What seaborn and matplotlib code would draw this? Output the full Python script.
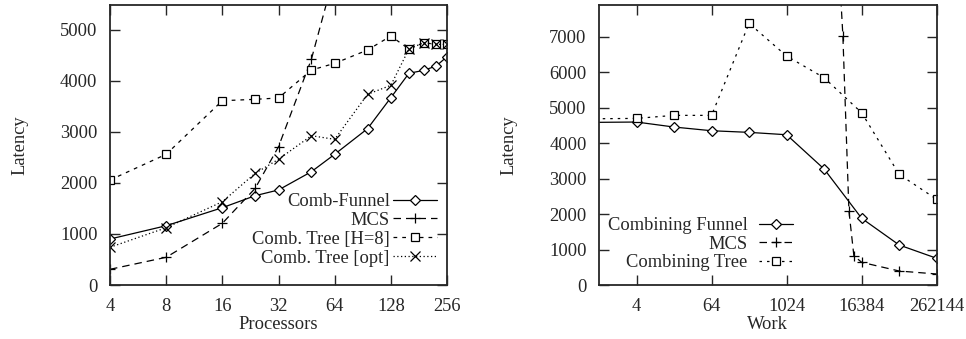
import numpy as np
import pandas as pd
import matplotlib
matplotlib.use("Agg")
import matplotlib.pyplot as plt
import seaborn as sns
from matplotlib.ticker import FixedLocator, FixedFormatter, NullLocator

# ---- Left panel data (latency vs processors) ----
procs = [4, 8, 16, 24, 32, 48, 64, 96, 128, 160, 192, 224, 256]
funnel_lat = [900, 1160, 1513, 1748, 1860, 2217, 2558, 3059, 3666, 4143, 4201, 4286, 4468]
mcs_procs = [4, 8, 16, 24, 32, 48, 64]
mcs_lat = [307, 542, 1207, 1892, 2706, 4417, 6100]
tree8_lat = [2055, 2558, 3607, 3634, 3660, 4207, 4338, 4599, 4873, 4618, 4742, 4710, 4710]
treeopt_lat = [738, 1121, 1630, 2186, 2460, 2922, 2851, 3732, 3908, 4618, 4742, 4710, 4710]
proc_ticks = [4, 8, 16, 32, 64, 128, 256]
lat_ticks_left = [0, 1000, 2000, 3000, 4000, 5000]

# ---- Right panel data (latency vs work) ----
work = [0.5, 4, 16, 64, 256, 1024, 4096, 16384, 65536, 262144]
funnel_work_lat = [4580, 4592, 4451, 4347, 4301, 4234, 3268, 1879, 1127, 752]
tree_work_lat = [4680, 4695, 4780, 4780, 7372, 6451, 5840, 4854, 3118, 2414]
mcs_work = [4096, 8192, 10240, 12288, 16384, 65536, 262144]
mcs_work_lat = [16600, 7014, 2085, 825, 639, 394, 310]
work_ticks = [4, 64, 1024, 16384, 262144]
lat_ticks_right = [0, 1000, 2000, 3000, 4000, 5000, 6000, 7000]

FS = 13.3
sns.set_style("ticks")
plt.rcParams["font.family"] = ["Liberation Serif", "DejaVu Serif"]
plt.rcParams["font.size"] = FS
plt.rcParams["axes.linewidth"] = 1.3

fig = plt.figure(figsize=(9.66, 3.39), dpi=100)
axL = fig.add_axes([110 / 966, 54 / 339, 337 / 966, 280 / 339])
axR = fig.add_axes([599 / 966, 54 / 339, 337.7 / 966, 280 / 339])

common = dict(color="black", linewidth=0.9, markeredgewidth=0.9,
              markeredgecolor="black", markerfacecolor="white", errorbar=None)

dfL = pd.DataFrame({"p": procs, "f": funnel_lat, "t8": tree8_lat, "to": treeopt_lat})
dfM = pd.DataFrame({"p": mcs_procs, "m": mcs_lat})

sns.lineplot(data=dfL, x="p", y="f", ax=axL, marker="D", markersize=5,
             label="Comb-Funnel", linestyle="-", **common)
sns.lineplot(data=dfM, x="p", y="m", ax=axL, marker="+", markersize=7,
             label="MCS", linestyle=(0, (6, 4)), **common)
sns.lineplot(data=dfL, x="p", y="t8", ax=axL, marker="s", markersize=5.5,
             label="Comb. Tree [H=8]", linestyle=(0, (3, 4)), **common)
sns.lineplot(data=dfL, x="p", y="to", ax=axL, marker="x", markersize=6.5,
             label="Comb. Tree [opt]", linestyle=(0, (1, 2)), **common)

dfW = pd.DataFrame({"w": work, "f": funnel_work_lat, "t": tree_work_lat})
dfWM = pd.DataFrame({"w": mcs_work, "m": mcs_work_lat})
sns.lineplot(data=dfW, x="w", y="f", ax=axR, marker="D", markersize=5,
             label="Combining Funnel", linestyle="-", **common)
sns.lineplot(data=dfWM, x="w", y="m", ax=axR, marker="+", markersize=7,
             label="MCS", linestyle=(0, (6, 4)), **common)
sns.lineplot(data=dfW, x="w", y="t", ax=axR, marker="s", markersize=5.5,
             label="Combining Tree", linestyle=(0, (2, 4)), **common)

for ax in (axL, axR):
    ax.set_xscale("log", base=2)
    for s in ax.spines.values():
        s.set_visible(True)
        s.set_linewidth(1.3)
    ax.tick_params(which="major", direction="in", length=7, width=1.0,
                   top=True, right=True, labelsize=FS)
    ax.tick_params(axis="x", pad=9.5)
    ax.tick_params(axis="y", pad=9)
    ax.xaxis.set_minor_locator(NullLocator())
    ax.yaxis.set_minor_locator(NullLocator())
    ax.set_ylabel("Latency", fontsize=FS)

axL.set_xlim(4, 256)
axL.set_ylim(0, 5480)
axL.xaxis.set_major_locator(FixedLocator(proc_ticks))
axL.xaxis.set_major_formatter(FixedFormatter([str(t) for t in proc_ticks]))
axL.yaxis.set_major_locator(FixedLocator(lat_ticks_left))
axL.set_xlabel("Processors", fontsize=FS)

axR.set_xlim(1, 262144)
axR.set_ylim(0, 7890)
axR.xaxis.set_major_locator(FixedLocator(work_ticks))
axR.xaxis.set_major_formatter(FixedFormatter([str(t) for t in work_ticks]))
axR.yaxis.set_major_locator(FixedLocator(lat_ticks_right))
axR.set_xlabel("Work", fontsize=FS)

for ax in (axL, axR):
    ax.yaxis.set_label_coords(-0.243, 0.5)
    ax.xaxis.set_label_coords(0.5, -0.112)

axL.legend(loc="lower right", bbox_to_anchor=(0.970, 0.066), frameon=False,
           markerfirst=False, handlelength=2.4, handletextpad=0.15,
           labelspacing=0.1, borderpad=0, borderaxespad=0, fontsize=FS)
axR.legend(loc="lower right", bbox_to_anchor=(0.574, 0.05), frameon=False,
           markerfirst=False, handlelength=1.85, handletextpad=0.6,
           labelspacing=0.07, borderpad=0, borderaxespad=0, fontsize=FS)

fig.savefig("out.png", dpi=100)
